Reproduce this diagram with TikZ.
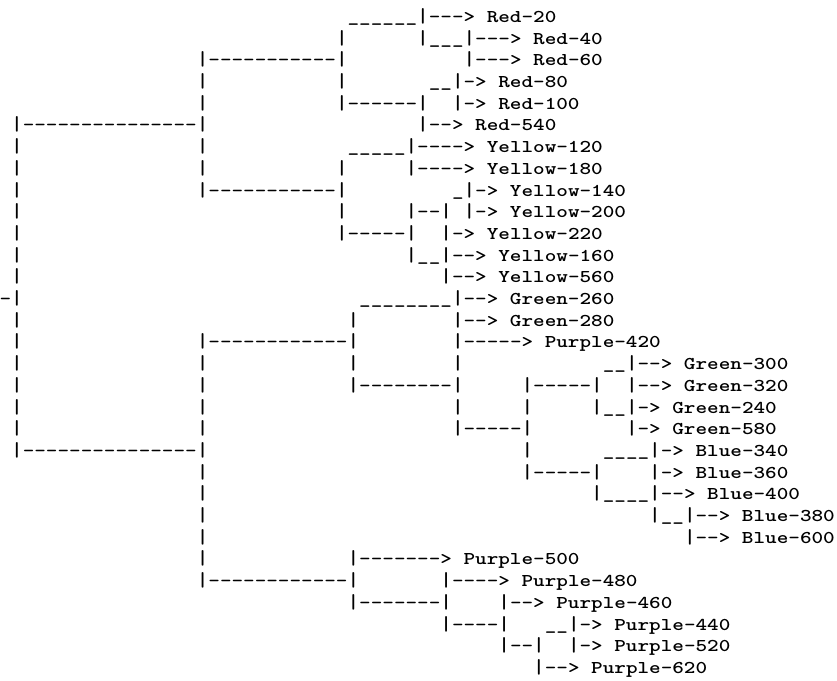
\documentclass[tikz,border=0pt]{standalone}
\usepackage{tikz}
\tikzset{asc/.style={inner sep=0pt, outer sep=0pt, anchor=base west, font=\ttfamily\fontseries{b}\fontsize{13.5}{13.5}\selectfont}}
\newcommand\ascw[1]{\scalebox{1.2275}[1]{#1}}
\newcommand\ascbar{\scalebox{1.2275}[1.12]{|}}

\begin{document}
\begin{tikzpicture}[x=8.7pt, y=-16.275pt]
        \useasboundingbox (0.0345,-1.037) rectangle (72.19,30.30);
        % vertical strokes: column / first row / last row
        \foreach \c/\a/\b in {1/5/20, 17/2/8, 17/15/26, 29/1/4, 29/7/10, 30/14/17, 30/25/27,
                35/6/7, 35/9/11, 36/0/1, 36/4/5, 38/9/12, 38/26/28, 39/3/4, 39/13/19,
                40/1/2, 40/8/9, 43/27/29, 45/17/21, 46/29/30, 49/28/29, 51/17/18,
                51/21/22, 54/16/19, 56/20/23, 59/23/24}
            \foreach \r in {\a,...,\b}
                \node[asc] (bar-\c-\r) at (\c,\r) {\ascbar};
        % Red
        \node[asc] (low-0) at (30,0) {\ascw{\_\_\_\_\_\_}};
        \node[asc] (red20) at (37,0) {\ascw{---> Red-20}};
        \node[asc] (low-1) at (37,1) {\ascw{\_\_\_}};
        \node[asc] (red40) at (41,1) {\ascw{---> Red-40}};
        \node[asc] (link-2) at (18,2) {\ascw{-----------}};
        \node[asc] (red60) at (41,2) {\ascw{---> Red-60}};
        \node[asc] (low-3) at (37,3) {\ascw{\_\_}};
        \node[asc] (red80) at (40,3) {\ascw{-> Red-80}};
        \node[asc] (link-4) at (30,4) {\ascw{------}};
        \node[asc] (red100) at (40,4) {\ascw{-> Red-100}};
        \node[asc] (link-5) at (2,5) {\ascw{---------------}};
        \node[asc] (red540) at (37,5) {\ascw{--> Red-540}};
        % Yellow
        \node[asc] (low-6) at (30,6) {\ascw{\_\_\_\_\_}};
        \node[asc] (yellow120) at (36,6) {\ascw{----> Yellow-120}};
        \node[asc] (yellow180) at (36,7) {\ascw{----> Yellow-180}};
        \node[asc] (link-8) at (18,8) {\ascw{-----------}};
        \node[asc] (low-8) at (39,8) {\ascw{\_}};
        \node[asc] (yellow140) at (41,8) {\ascw{-> Yellow-140}};
        \node[asc] (link-9) at (36,9) {\ascw{--}};
        \node[asc] (yellow200) at (41,9) {\ascw{-> Yellow-200}};
        \node[asc] (link-10) at (30,10) {\ascw{-----}};
        \node[asc] (yellow220) at (39,10) {\ascw{-> Yellow-220}};
        \node[asc] (low-11) at (36,11) {\ascw{\_\_}};
        \node[asc] (yellow160) at (39,11) {\ascw{--> Yellow-160}};
        \node[asc] (yellow560) at (39,12) {\ascw{--> Yellow-560}};
        % Green and Blue
        \node[asc] (root) at (0,13) {\ascw{-}};
        \node[asc] (low-13) at (31,13) {\ascw{\_\_\_\_\_\_\_\_}};
        \node[asc] (green260) at (40,13) {\ascw{--> Green-260}};
        \node[asc] (green280) at (40,14) {\ascw{--> Green-280}};
        \node[asc] (link-15) at (18,15) {\ascw{------------}};
        \node[asc] (purple420) at (40,15) {\ascw{-----> Purple-420}};
        \node[asc] (low-16) at (52,16) {\ascw{\_\_}};
        \node[asc] (green300) at (55,16) {\ascw{--> Green-300}};
        \node[asc] (link-17a) at (31,17) {\ascw{--------}};
        \node[asc] (link-17b) at (46,17) {\ascw{-----}};
        \node[asc] (green320) at (55,17) {\ascw{--> Green-320}};
        \node[asc] (low-18) at (52,18) {\ascw{\_\_}};
        \node[asc] (green240) at (55,18) {\ascw{-> Green-240}};
        \node[asc] (link-19) at (40,19) {\ascw{-----}};
        \node[asc] (green580) at (55,19) {\ascw{-> Green-580}};
        \node[asc] (link-20) at (2,20) {\ascw{---------------}};
        \node[asc] (low-20) at (52,20) {\ascw{\_\_\_\_}};
        \node[asc] (blue340) at (57,20) {\ascw{-> Blue-340}};
        \node[asc] (link-21) at (46,21) {\ascw{-----}};
        \node[asc] (blue360) at (57,21) {\ascw{-> Blue-360}};
        \node[asc] (low-22) at (52,22) {\ascw{\_\_\_\_}};
        \node[asc] (blue400) at (57,22) {\ascw{--> Blue-400}};
        \node[asc] (low-23) at (57,23) {\ascw{\_\_}};
        \node[asc] (blue380) at (60,23) {\ascw{--> Blue-380}};
        \node[asc] (blue600) at (60,24) {\ascw{--> Blue-600}};
        % Purple
        \node[asc] (purple500) at (31,25) {\ascw{-------> Purple-500}};
        \node[asc] (link-26) at (18,26) {\ascw{------------}};
        \node[asc] (purple480) at (39,26) {\ascw{----> Purple-480}};
        \node[asc] (link-27) at (31,27) {\ascw{-------}};
        \node[asc] (purple460) at (44,27) {\ascw{--> Purple-460}};
        \node[asc] (link-28) at (39,28) {\ascw{----}};
        \node[asc] (low-28) at (47,28) {\ascw{\_\_}};
        \node[asc] (purple440) at (50,28) {\ascw{-> Purple-440}};
        \node[asc] (link-29) at (44,29) {\ascw{--}};
        \node[asc] (purple520) at (50,29) {\ascw{-> Purple-520}};
        \node[asc] (purple620) at (47,30) {\ascw{--> Purple-620}};
\end{tikzpicture}
\end{document}
